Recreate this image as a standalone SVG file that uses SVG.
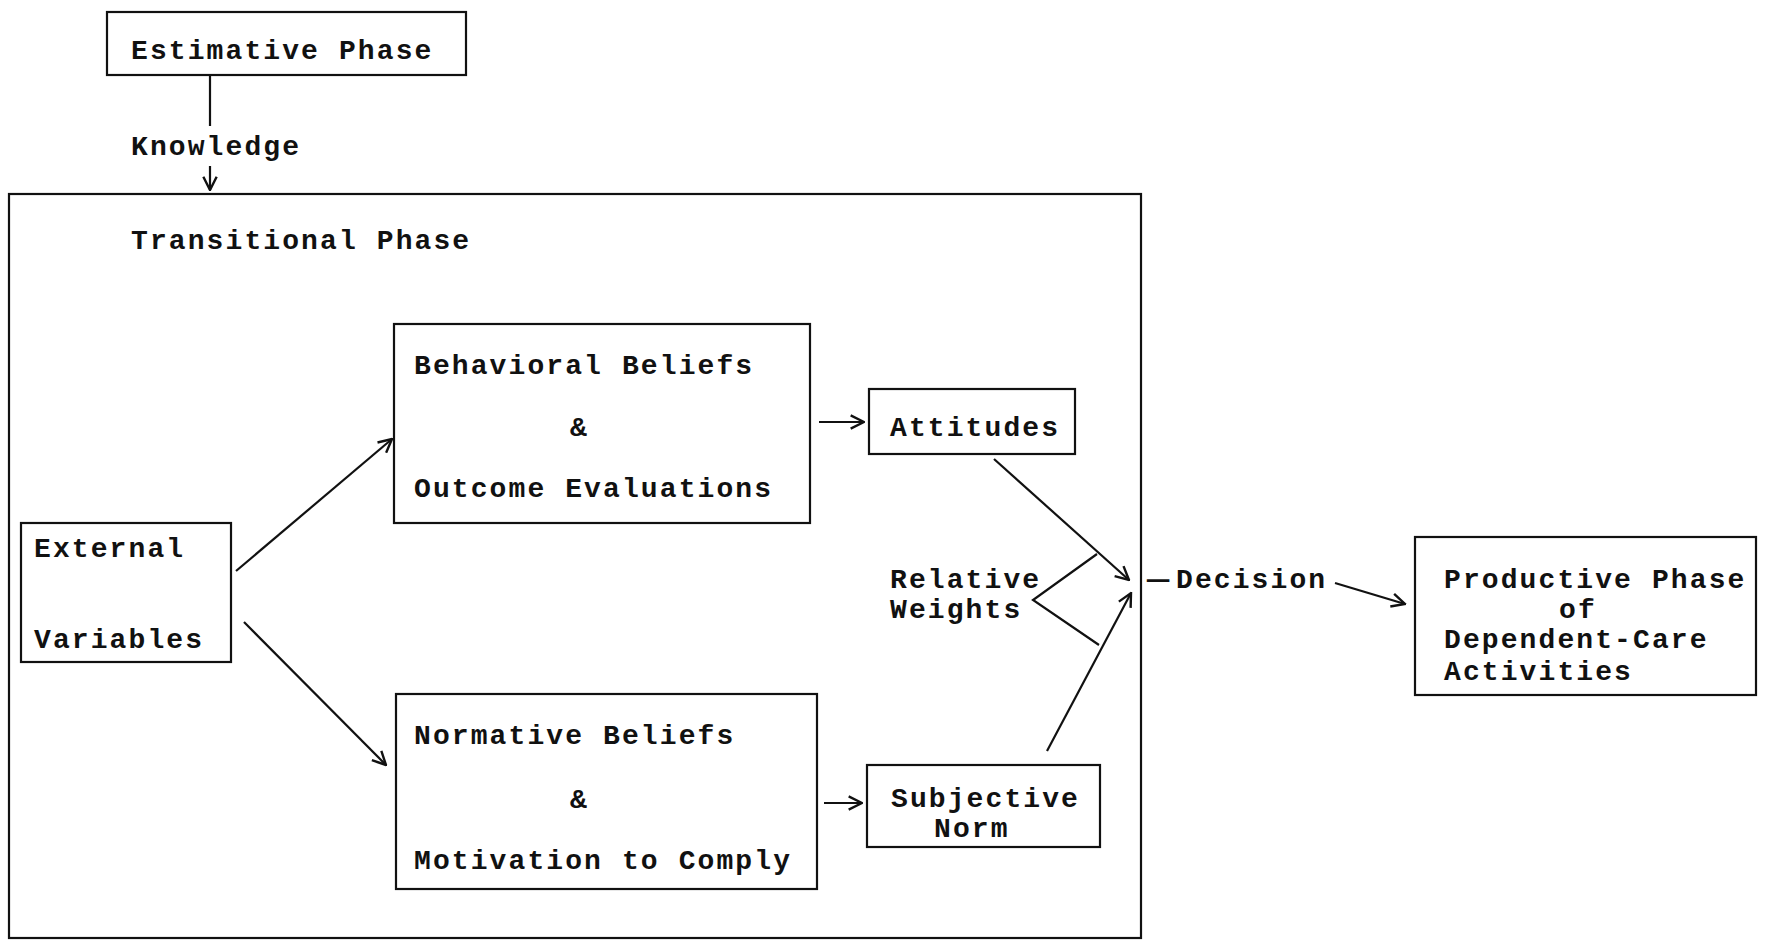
<svg xmlns="http://www.w3.org/2000/svg" width="1765" height="943" viewBox="0 0 1765 943">
<style>
text{font-family:"Liberation Mono","DejaVu Sans Mono",monospace;font-weight:bold;font-size:28px;letter-spacing:2.1px;fill:#111}
.box{fill:none;stroke:#111;stroke-width:2.2}
.ln{fill:none;stroke:#111;stroke-width:2.2}
.arr{fill:none;stroke:#111;stroke-width:2.2;marker-end:url(#ah)}
</style>
<defs>
<marker id="ah" viewBox="0 0 12 12" refX="11" refY="6" markerWidth="16" markerHeight="16" markerUnits="userSpaceOnUse" orient="auto">
<path d="M1,1 L11,6 L1,11" fill="none" stroke="#111" stroke-width="1.8"/>
</marker>
</defs>
<rect width="1765" height="943" fill="#fff"/>
<g id="estimative"><rect class="box" x="107" y="12" width="359" height="63"/><text x="131" y="59">Estimative Phase</text></g>
<g id="knowledge"><text x="131" y="155">Knowledge</text></g>
<g id="transitional"><rect class="box" x="9" y="194" width="1132" height="744"/><text x="131" y="249">Transitional Phase</text></g>
<g id="behavioral"><rect class="box" x="394" y="324" width="416" height="199"/><text x="414" y="374">Behavioral Beliefs</text><text x="570" y="436">&amp;</text><text x="414" y="497">Outcome Evaluations</text></g>
<g id="attitudes"><rect class="box" x="869" y="389" width="206" height="65"/><text x="890" y="436">Attitudes</text></g>
<g id="external"><rect class="box" x="21" y="523" width="210" height="139"/><text x="34" y="557">External</text><text x="34" y="648">Variables</text></g>
<g id="normative"><rect class="box" x="396" y="694" width="421" height="195"/><text x="414" y="744">Normative Beliefs</text><text x="570" y="808">&amp;</text><text x="414" y="869">Motivation to Comply</text></g>
<g id="subjective"><rect class="box" x="867" y="765" width="233" height="82"/><text x="891" y="807">Subjective</text><text x="934" y="837">Norm</text></g>
<g id="weights"><text x="890" y="588">Relative</text><text x="890" y="618">Weights</text></g>
<g id="decision"><text x="1147" y="588" textLength="25" lengthAdjust="spacingAndGlyphs">—</text><text x="1176" y="588">Decision</text></g>
<g id="productive"><rect class="box" x="1415" y="537" width="341" height="158"/><text x="1444" y="588">Productive Phase</text><text x="1559" y="618">of</text><text x="1444" y="648">Dependent-Care</text><text x="1444" y="680">Activities</text></g>
<g id="connectors">
<line class="ln" x1="210" y1="75" x2="210" y2="126"/>
<line class="arr" x1="210" y1="166" x2="210" y2="190"/>
<line class="arr" x1="236" y1="571" x2="392" y2="439"/>
<line class="arr" x1="244" y1="622" x2="386" y2="765"/>
<line class="arr" x1="819" y1="422" x2="864" y2="422"/>
<line class="arr" x1="824" y1="803" x2="862" y2="803"/>
<line class="arr" x1="994" y1="459" x2="1129" y2="580"/>
<line class="arr" x1="1047" y1="751" x2="1131" y2="593"/>
<polyline class="ln" points="1097,554 1033,600 1099,645"/>
<line class="arr" x1="1335" y1="583" x2="1405" y2="604"/>
</g>
</svg>
